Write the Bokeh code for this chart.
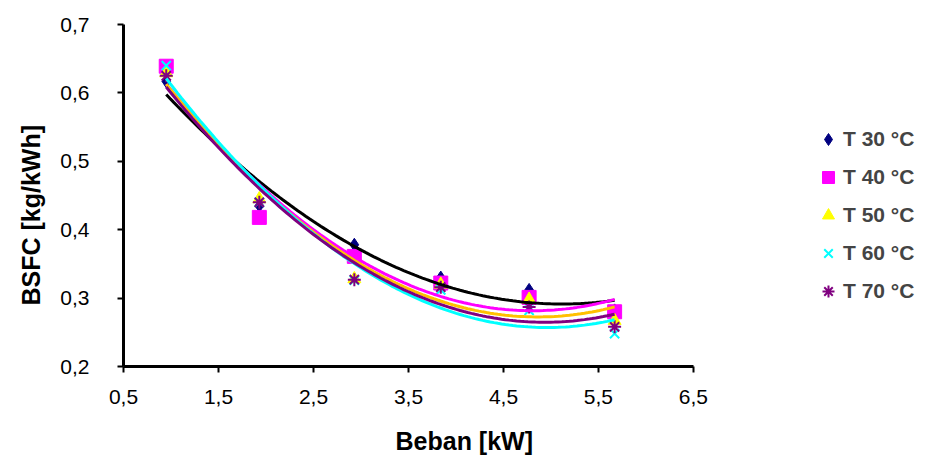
import numpy as np
from bokeh.plotting import figure
from bokeh.models import FixedTicker, Legend, LegendItem, Title
from bokeh.embed import file_html
from bokeh.resources import INLINE

# ---- data ----
beban = [0.95, 1.93, 2.93, 3.84, 4.77, 5.67]
t30 = [0.617, 0.435, 0.378, 0.330, 0.312, 0.282]
t40 = [0.639, 0.418, 0.361, 0.322, 0.301, 0.280]
t50 = [0.629, 0.445, 0.328, 0.320, 0.298, 0.267]
t60 = [0.640, 0.440, 0.326, 0.312, 0.282, 0.248]
t70 = [0.625, 0.440, 0.327, 0.316, 0.287, 0.258]
labels = ["T 30 °C", "T 40 °C", "T 50 °C", "T 60 °C", "T 70 °C"]
x_ticks = [0.5, 1.5, 2.5, 3.5, 4.5, 5.5, 6.5]
y_ticks = [0.2, 0.3, 0.4, 0.5, 0.6, 0.7]

series = [t30, t40, t50, t60, t70]
markers = ["diamond", "square", "triangle", "x", "asterisk"]
mcolors = ["#000080", "#FF00FF", "#FFFF00", "#00FFFF", "#800080"]
msizes = [13, 14, 13, 13, 13]
tcolors = ["#000000", "#FF00FF", "#FFC000", "#00FFFF", "#800080"]

FONT = "Liberation Sans"

p = figure(width=925, height=472, output_backend="svg", toolbar_location=None,
           x_range=(0.5, 8.89), y_range=(0.2, 0.7),
           min_border_left=123, min_border_right=5,
           min_border_top=24, min_border_bottom=106)
p.outline_line_color = None
p.xgrid.visible = False
p.ygrid.visible = False

items = []
for ys, mk, mc, ms, lab in zip(series, markers, mcolors, msizes, labels):
    lw = 2 if mk in ("x", "asterisk") else 1
    r = p.scatter(beban, ys, marker=mk, size=ms, fill_color=mc, line_color=mc, line_width=lw)
    items.append(LegendItem(label=lab, renderers=[r]))

# 2nd-order polynomial trendlines (as in the original spreadsheet chart)
xs = np.linspace(beban[0], beban[-1], 120)
for ys, tc in zip(series, tcolors):
    c = np.polyfit(beban, ys, 2)
    p.line(xs, np.polyval(c, xs), line_color=tc, line_width=3)

for ax, ticks in ((p.xaxis[0], x_ticks), (p.yaxis[0], y_ticks)):
    ax.ticker = FixedTicker(ticks=ticks)
    ax.major_label_overrides = {t: f"{t:.1f}".replace(".", ",") for t in ticks}
    ax.axis_line_width = 3
    ax.axis_line_color = "black"
    ax.major_tick_line_width = 2
    ax.major_tick_in = 0
    ax.major_tick_out = 6
    ax.minor_tick_line_color = None
    ax.major_label_text_font = FONT
    ax.major_label_text_font_size = "21px"
    ax.major_label_text_color = "#000000"
p.xaxis[0].bounds = (0.5, 6.5)
p.xaxis[0].major_label_standoff = 17
p.yaxis[0].major_label_standoff = 28

p.add_layout(Title(text="Beban [kW]", align="left", offset=272, standoff=36,
                   vertical_align="bottom",
                   text_font=FONT, text_font_size="25px", text_font_style="bold",
                   text_color="#000000"), "below")
p.add_layout(Title(text="BSFC [kg/kWh]", align="left", offset=61, standoff=26,
                   text_font=FONT, text_font_size="25px", text_font_style="bold",
                   text_color="#000000"), "left")

legend = Legend(items=items, location=(690, 60))
legend.label_text_font = FONT
legend.label_text_font_size = "21px"
legend.label_text_font_style = "bold"
legend.glyph_width = 30
legend.glyph_height = 30
legend.label_standoff = 0
legend.spacing = 8
legend.padding = 5
legend.border_line_color = None
legend.background_fill_alpha = 0
p.add_layout(legend)

open("out.html", "w").write(file_html(p, INLINE))
